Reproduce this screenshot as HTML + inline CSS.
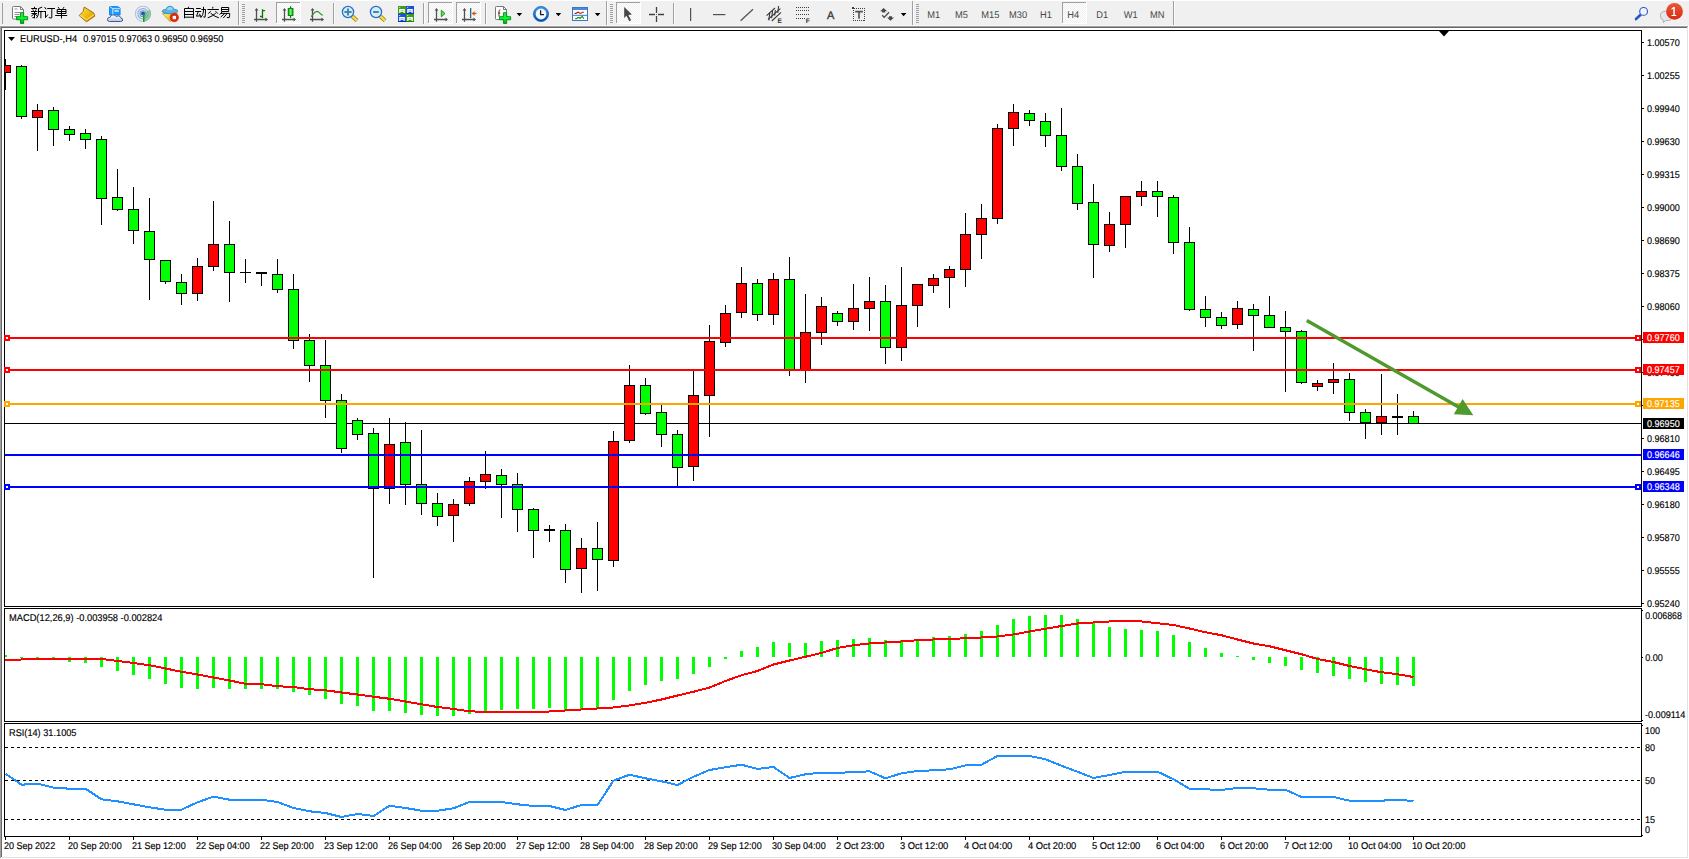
<!DOCTYPE html>
<html><head><meta charset="utf-8"><title>EURUSD-,H4</title>
<style>
html,body{margin:0;padding:0;background:#fff;}
body{width:1689px;height:859px;position:relative;overflow:hidden;font-family:"Liberation Sans",sans-serif;}
#tb{position:absolute;left:0;top:1px;width:1689px;height:25px;background:#f0f0f0;}
.ab{position:absolute;}
svg{position:absolute;left:0;top:0;}
text{font-family:"Liberation Sans",sans-serif;text-rendering:geometricPrecision;}
.t{font-size:9.8px;fill:#000;stroke:#000;stroke-width:.15px;}
.tw{font-size:9.8px;fill:#fff;stroke:#fff;stroke-width:.15px;}
.tbt{font-size:9.8px;fill:#484848;}
</style></head><body>
<div id="tb"></div>
<svg width="1689" height="27" viewBox="0 0 1689 27">
<defs><pattern id="chk" width="2" height="2" patternUnits="userSpaceOnUse"><rect width="2" height="2" fill="#fff"/><rect width="1" height="1" fill="#f0f0f0"/><rect x="1" y="1" width="1" height="1" fill="#f0f0f0"/></pattern><linearGradient id="gpl" x1="0" y1="0" x2="0" y2="1"><stop offset="0" stop-color="#2fe04a"/><stop offset=".5" stop-color="#00ff2a"/><stop offset="1" stop-color="#00a010"/></linearGradient><linearGradient id="gbk" x1="0" y1="0" x2="1" y2="1"><stop offset="0" stop-color="#ffe870"/><stop offset=".6" stop-color="#e8b400"/><stop offset="1" stop-color="#c89000"/></linearGradient><linearGradient id="gcl" x1="0" y1="0" x2="0" y2="1"><stop offset="0" stop-color="#ffffff"/><stop offset="1" stop-color="#b8c8e0"/></linearGradient><linearGradient id="gbd" x1="0" y1="0" x2="0" y2="1"><stop offset="0" stop-color="#e9583c"/><stop offset="1" stop-color="#dc2a10"/></linearGradient><linearGradient id="gck" x1="0" y1="0" x2="0" y2="1"><stop offset="0" stop-color="#3a9cf0"/><stop offset="1" stop-color="#0050b0"/></linearGradient><linearGradient id="ggr" x1="0" y1="0" x2="1" y2="0"><stop offset="0" stop-color="#008c00"/><stop offset=".5" stop-color="#70ff70"/><stop offset="1" stop-color="#00a000"/></linearGradient><linearGradient id="ghd" x1="0" y1="0" x2="1" y2="1"><stop offset="0" stop-color="#fff080"/><stop offset="1" stop-color="#d8a800"/></linearGradient></defs>
<rect x="0" y="0" width="1689" height="1" fill="#fff"/>
<rect x="2" y="3" width="1" height="21" fill="#a0a0a0"/>
<path d="M13.5 6.5h7l3 3V19h-10.2q-.8 0 -.8 -.8V7.3q0 -.8 .8 -.8z" fill="#fff" stroke="#787878" stroke-width="1"/>
<path d="M20.5 6.5v3h3" fill="none" stroke="#787878" stroke-width="1"/>
<path d="M14.5 9h3M14.5 12.5h6M14.5 14.5h5M14.5 16.5h3" stroke="#909090" stroke-width="1"/>
<path d="M20.55 12.65h3.1v4h4v3.1h-4v3.8h-3.1v-3.8h-4v-3.1h4z" fill="url(#gpl)" stroke="#008a10" stroke-width=".9"/>
<path d="M34.5 6.8V8M31.2 8.5H37M32.8 9.3L33.4 10.8M36.1 9.3L35.5 10.8M31 11.5H37.4M31.4 13.5H37M34.5 11.5V18.2M34.5 17.8L32.4 17.5M33.8 14.2L31.3 16.1M35.2 14.2L37.3 16.1M42.2 7.1L38.5 8.6M38.5 8.4V13Q38.4 16 36.4 18.2M38.5 11.5H43.3M40.9 11.5V18.3" fill="none" stroke="#000" stroke-width="1"/>
<path d="M44.6 7.1L46.1 9.3M43.4 11.5H46M45.5 11.5V17.6M45.4 17.7L47.9 14.5M47.2 8.5H55M51.8 8.5V17.8Q51.6 18.4 48.8 17.5" fill="none" stroke="#000" stroke-width="1"/>
<path d="M58.2 7.1L59.3 8.8M64 7.1L62.9 8.8M57.2 9.5H66V13.5H57.2ZM57.2 11.5H66M61.5 9.5V18.4M55.2 15.5H67.2" fill="none" stroke="#000" stroke-width="1"/>
<path d="M84.2 7L93.8 13L94.8 16.2L86.5 21.8L79.2 15.6L83.2 11.4z" fill="url(#gbk)" stroke="#a86c10" stroke-width="1"/>
<path d="M80 15.4L86.6 19.6L94.3 14.4" fill="none" stroke="#fff2a0" stroke-width="1" opacity=".8"/>
<path d="M109.5 6.5h8l2.6 1.6V15h-10.6z" fill="#1e9aff" stroke="#0a78e0" stroke-width=".8"/>
<path d="M109.5 6.5l3.3 2.2V15M112.8 8.7h7.3" fill="none" stroke="#d8f0ff" stroke-width=".9"/>
<rect x="114.5" y="10.3" width="4.2" height="1.4" fill="#e8f6ff"/>
<path d="M109.6 21.5Q107.2 21.4 107.4 19.2Q107.6 17.4 109.8 17.4Q110.6 14.6 113.4 14.8Q115.4 14.9 116.2 16.6Q118.2 15 120 16.4Q121 17.2 120.9 18.2Q122.8 18.4 122.7 20Q122.6 21.5 120.6 21.5z" fill="url(#gcl)" stroke="#3a5a9c" stroke-width="1"/>
<g fill="none" stroke-width="1.1"><circle cx="143" cy="13.8" r="7.6" stroke="#7a9ee0" opacity=".55"/><circle cx="143" cy="13.8" r="5.2" stroke="#4a78d0" opacity=".6"/><circle cx="143" cy="13.8" r="3" stroke="#3a68cc" opacity=".7"/></g>
<path d="M143.4 13.8L143.4 21.6A7.8 7.8 0 0 0 149.6 9.4z" fill="#58b860" opacity=".55"/>
<circle cx="143" cy="13.6" r="2" fill="#2050c8"/>
<rect x="143" y="14" width="1.5" height="7.8" fill="#10a010"/>
<path d="M162.4 13.6L177.6 13L170.3 21.8z" fill="url(#ghd)" stroke="#c89a10" stroke-width=".8"/>
<path d="M162 11.6Q162.4 9.4 166.2 9.2Q166.8 6.2 170 6.2Q173.2 6.2 173.8 9.2Q177.6 9.2 177.9 11.2Q176 13.6 170 13.8Q164 13.8 162 11.6z" fill="#5ab4e6" stroke="#2a88b8" stroke-width=".8"/>
<path d="M166.5 9.6Q167.4 7 170 7Q172.4 7 173.2 9.2Q170 10.6 166.5 9.6z" fill="#9ad4f4"/>
<circle cx="174.3" cy="17.5" r="4.2" fill="#e82810"/>
<circle cx="174.3" cy="17.5" r="4.2" fill="none" stroke="#b81800" stroke-width=".6"/>
<rect x="172.7" y="15.9" width="3.3" height="3.3" fill="#fff"/>
<path d="M188.7 6.7L188 8.3M184.5 8.5H193.5V18.3M184.5 8.5V18.3M184.5 11.5H193.5M184.5 14.5H193.5M184.5 17.2H193.5" fill="none" stroke="#000" stroke-width="1"/>
<path d="M196 8.5H200.8M195.2 11.5H201.2M198.3 11.6L196.5 16.2L200.3 15.8M199.5 13.8L200.9 17M201.4 9.5H205.7M205.5 9.5Q205.5 15 205 17.3L203.3 16.8M203.5 6.8V11Q203.3 15 200.7 17.9" fill="none" stroke="#000" stroke-width="1"/>
<path d="M212.8 6.8V8.6M207.4 9.5H218.8M210.7 11.2L208.3 13.7M215.5 11.2L217.9 13.7M215.8 13.1Q213 16 207.7 17.9M210.6 13.1Q213.4 16 218.9 17.9" fill="none" stroke="#000" stroke-width="1"/>
<path d="M221.5 7.5H228.7V11.5H221.5ZM221.5 9.5H228.7M222.4 11.6L219.6 14.7M221 13.4H229.7Q229.7 16 229.2 17.7L226.8 17.4M224.8 13.5L220.7 17.1M227.2 13.5L223.2 18.1" fill="none" stroke="#000" stroke-width="1"/>
<rect x="238" y="1" width="1" height="25" fill="#a0a0a0"/><rect x="239" y="1" width="1" height="25" fill="#fff" opacity=".7"/>
<rect x="242" y="4" width="3" height="1" fill="#a0a0a0"/><rect x="242" y="6" width="3" height="1" fill="#a0a0a0"/><rect x="242" y="8" width="3" height="1" fill="#a0a0a0"/><rect x="242" y="10" width="3" height="1" fill="#a0a0a0"/><rect x="242" y="12" width="3" height="1" fill="#a0a0a0"/><rect x="242" y="14" width="3" height="1" fill="#a0a0a0"/><rect x="242" y="16" width="3" height="1" fill="#a0a0a0"/><rect x="242" y="18" width="3" height="1" fill="#a0a0a0"/><rect x="242" y="20" width="3" height="1" fill="#a0a0a0"/><rect x="242" y="22" width="3" height="1" fill="#a0a0a0"/>
<g stroke="#505050" stroke-width="1.3" fill="none"><path d="M256.5 9V21.8M254 19.5H267"/></g><path d="M256.5 7.9l1.9 2.5h-3.8zM268 19.5l-2.5 -1.9v3.8z" fill="#505050"/>
<path d="M262.5 9.2V18M260 16.5h2.5M262.5 10.6h2.6" fill="none" stroke="#008000" stroke-width="1.3"/>
<rect x="276" y="2" width="25" height="22" fill="url(#chk)"/><rect x="276" y="2" width="25" height="1" fill="#a0a0a0"/><rect x="276" y="2" width="1" height="22" fill="#a0a0a0"/><rect x="276" y="23" width="25" height="1" fill="#fff"/><rect x="300" y="2" width="1" height="22" fill="#fff"/>
<g stroke="#505050" stroke-width="1.3" fill="none"><path d="M284.5 9V21.8M282 19.5H295"/></g><path d="M284.5 7.9l1.9 2.5h-3.8zM296 19.5l-2.5 -1.9v3.8z" fill="#505050"/>
<rect x="290" y="6.2" width="1.2" height="11.8" fill="#008000"/>
<rect x="288.2" y="8.4" width="4.8" height="7.2" fill="url(#ggr)" stroke="#008000" stroke-width=".9"/>
<g stroke="#505050" stroke-width="1.3" fill="none"><path d="M312.5 9V21.8M310 19.5H323"/></g><path d="M312.5 7.9l1.9 2.5h-3.8zM324 19.5l-2.5 -1.9v3.8z" fill="#505050"/>
<path d="M311.2 16.8Q314.5 11.4 317 11.3Q318.6 11.3 320.4 13.6Q321.6 15 322.8 15.2" fill="none" stroke="#2a902a" stroke-width="1.2"/>
<rect x="333" y="3" width="1" height="21" fill="#a0a0a0"/><rect x="334" y="3" width="1" height="21" fill="#fff" opacity=".7"/>
<path d="M352 16L357 20.6" stroke="#a07808" stroke-width="4" stroke-linecap="butt"/>
<path d="M352 16L357 20.6" stroke="#f4dc50" stroke-width="2.4"/>
<circle cx="348" cy="12" r="5.6" fill="#d6eefa" stroke="#2a70c4" stroke-width="1.3"/>
<path d="M344.4 12h7.2M348 8.4v7.2" stroke="#4488b0" stroke-width="2"/>
<path d="M380 16L385 20.6" stroke="#a07808" stroke-width="4" stroke-linecap="butt"/>
<path d="M380 16L385 20.6" stroke="#f4dc50" stroke-width="2.4"/>
<circle cx="376" cy="12" r="5.6" fill="#d6eefa" stroke="#2a70c4" stroke-width="1.3"/>
<path d="M373.1 12h5.8" stroke="#4488b0" stroke-width="2"/>
<rect x="398" y="6" width="8" height="8" fill="#3aa01c"/>
<rect x="398" y="13" width="8" height="1" fill="#2a8010"/>
<path d="M399.2 9h5.6v4h-1.2v-1.2h-3.2v1.2h-1.2z" fill="#fff"/>
<rect x="400.5" y="10.2" width="3" height=".8" fill="#3aa01c" opacity=".5"/>
<rect x="399.2" y="7" width="1" height="1" fill="#fff" opacity=".8"/>
<rect x="406" y="6" width="8" height="8" fill="#1c50d8"/>
<rect x="406" y="13" width="8" height="1" fill="#1030a8"/>
<path d="M407.2 9h5.6v4h-1.2v-1.2h-3.2v1.2h-1.2z" fill="#fff"/>
<rect x="408.5" y="10.2" width="3" height=".8" fill="#1c50d8" opacity=".5"/>
<rect x="407.2" y="7" width="1" height="1" fill="#fff" opacity=".8"/>
<rect x="398" y="14" width="8" height="8" fill="#1c50d8"/>
<rect x="398" y="21" width="8" height="1" fill="#1030a8"/>
<path d="M399.2 17h5.6v4h-1.2v-1.2h-3.2v1.2h-1.2z" fill="#fff"/>
<rect x="400.5" y="18.2" width="3" height=".8" fill="#1c50d8" opacity=".5"/>
<rect x="399.2" y="15" width="1" height="1" fill="#fff" opacity=".8"/>
<rect x="406" y="14" width="8" height="8" fill="#3aa01c"/>
<rect x="406" y="21" width="8" height="1" fill="#2a8010"/>
<path d="M407.2 17h5.6v4h-1.2v-1.2h-3.2v1.2h-1.2z" fill="#fff"/>
<rect x="408.5" y="18.2" width="3" height=".8" fill="#3aa01c" opacity=".5"/>
<rect x="407.2" y="15" width="1" height="1" fill="#fff" opacity=".8"/>
<rect x="423" y="3" width="1" height="21" fill="#a0a0a0"/><rect x="424" y="3" width="1" height="21" fill="#fff" opacity=".7"/>
<rect x="428" y="2" width="25" height="22" fill="url(#chk)"/><rect x="428" y="2" width="25" height="1" fill="#a0a0a0"/><rect x="428" y="2" width="1" height="22" fill="#a0a0a0"/><rect x="428" y="23" width="25" height="1" fill="#fff"/><rect x="452" y="2" width="1" height="22" fill="#fff"/>
<g stroke="#505050" stroke-width="1.3" fill="none"><path d="M436.5 9V21.8M434 19.5H447"/></g><path d="M436.5 7.9l1.9 2.5h-3.8zM448 19.5l-2.5 -1.9v3.8z" fill="#505050"/>
<path d="M441.3 10.2L445 13.5L441.3 16.8z" fill="#60e060" stroke="#10a010" stroke-width="1"/>
<rect x="456" y="2" width="25" height="22" fill="url(#chk)"/><rect x="456" y="2" width="25" height="1" fill="#a0a0a0"/><rect x="456" y="2" width="1" height="22" fill="#a0a0a0"/><rect x="456" y="23" width="25" height="1" fill="#fff"/><rect x="480" y="2" width="1" height="22" fill="#fff"/>
<g stroke="#505050" stroke-width="1.3" fill="none"><path d="M464.5 9V21.8M462 19.5H475"/></g><path d="M464.5 7.9l1.9 2.5h-3.8zM476 19.5l-2.5 -1.9v3.8z" fill="#505050"/>
<rect x="470" y="8" width="1.3" height="10" fill="#1a6aa0"/>
<path d="M471.6 13.5L474.6 11v1.8h1.8v1.4h-1.8V16z" fill="#e86a10"/>
<path d="M473 13.5h3.2" stroke="#d05000" stroke-width="1"/>
<rect x="485" y="3" width="1" height="21" fill="#a0a0a0"/><rect x="486" y="3" width="1" height="21" fill="#fff" opacity=".7"/>
<path d="M496.3 6.5h7.2l3 3V19.5h-10.2q-.8 0 -.8 -.8V7.3q0 -.8 .8 -.8z" fill="#fff" stroke="#787878" stroke-width="1"/>
<path d="M503.5 6.5v3h3" fill="none" stroke="#787878" stroke-width="1"/>
<path d="M500.4 9.8Q498.9 9.9 499 11.6v5M498 13h2.2" fill="none" stroke="#4a3a18" stroke-width="1"/>
<path d="M503.55 12.65h3.1v4h4v3.1h-4v3.8h-3.1v-3.8h-4v-3.1h4z" fill="url(#gpl)" stroke="#008a10" stroke-width=".9"/>
<path d="M516.6 13h5.6l-2.8 3.2z" fill="#000"/>
<circle cx="541" cy="14" r="7.6" fill="url(#gck)"/>
<circle cx="541" cy="14" r="5.4" fill="#f4f8ff"/>
<path d="M540.6 10.2V14.6H544" fill="none" stroke="#202020" stroke-width="1.3"/>
<circle cx="541" cy="14" r="7.6" fill="none" stroke="#0044a0" stroke-width=".6"/>
<path d="M555.6 13h5.6l-2.8 3.2z" fill="#000"/>
<rect x="572.5" y="7.5" width="15" height="13" fill="#fff" stroke="#3a78c8" stroke-width="1"/>
<rect x="573" y="8" width="14" height="2" fill="#4a8ad8"/>
<rect x="573" y="14.8" width="14" height="1" fill="#3a78c8"/>
<path d="M574.6 13.4h1.6l1.2-1h1.4l.8.9h1.6l1.2-1.1h1.4" fill="none" stroke="#a82010" stroke-width="1.1"/>
<path d="M575.2 18.6h1.4l1.2-1h1.4l.8.8 2-2 1.8 2.2" fill="none" stroke="#109020" stroke-width="1.1"/>
<path d="M594.8 13h5.6l-2.8 3.2z" fill="#000"/>
<rect x="606" y="1" width="1" height="26" fill="#a0a0a0"/><rect x="607" y="1" width="1" height="26" fill="#fff" opacity=".7"/>
<rect x="610" y="4" width="3" height="1" fill="#a0a0a0"/><rect x="610" y="6" width="3" height="1" fill="#a0a0a0"/><rect x="610" y="8" width="3" height="1" fill="#a0a0a0"/><rect x="610" y="10" width="3" height="1" fill="#a0a0a0"/><rect x="610" y="12" width="3" height="1" fill="#a0a0a0"/><rect x="610" y="14" width="3" height="1" fill="#a0a0a0"/><rect x="610" y="16" width="3" height="1" fill="#a0a0a0"/><rect x="610" y="18" width="3" height="1" fill="#a0a0a0"/><rect x="610" y="20" width="3" height="1" fill="#a0a0a0"/><rect x="610" y="22" width="3" height="1" fill="#a0a0a0"/>
<rect x="616" y="2" width="25" height="22" fill="url(#chk)"/><rect x="616" y="2" width="25" height="1" fill="#a0a0a0"/><rect x="616" y="2" width="1" height="22" fill="#a0a0a0"/><rect x="616" y="23" width="25" height="1" fill="#fff"/><rect x="640" y="2" width="1" height="22" fill="#fff"/>
<path d="M624.2 7V18L626.5 15.8L629.3 21.2L631.1 20.3L628.4 15L631.9 14.5z" fill="#484848"/>
<path d="M649 14.5h6M658 14.5h6M656.5 7v6M656.5 16v6" stroke="#404040" stroke-width="1.3"/>
<rect x="656" y="14" width="1" height="1" fill="#707040"/>
<rect x="673" y="3" width="1" height="21" fill="#a0a0a0"/><rect x="674" y="3" width="1" height="21" fill="#fff" opacity=".7"/>
<rect x="690" y="8" width="1.2" height="13" fill="#505050"/>
<rect x="713" y="14" width="12.4" height="1.2" fill="#505050"/>
<path d="M740.6 20.8L753 9.3" stroke="#505050" stroke-width="1.2"/>
<g stroke="#383838" stroke-width="1.1" fill="none"><path d="M766.6 15.6L775 8M771.8 21L781 12.4M768 19.4L780.4 8.6"/><path d="M769.8 12.6L768.8 20.4M772.6 10.8L771.6 18.2M775.4 10L774.6 15.6M778.6 6L777.8 13"/></g>
<text x="777.6" y="22.8" style="font-size:6.6px;font-weight:bold;fill:#303030">E</text>
<rect x="796" y="7" width="1" height="1" fill="#404040"/>
<rect x="798" y="7" width="1" height="1" fill="#404040"/>
<rect x="800" y="7" width="1" height="1" fill="#404040"/>
<rect x="802" y="7" width="1" height="1" fill="#404040"/>
<rect x="804" y="7" width="1" height="1" fill="#404040"/>
<rect x="806" y="7" width="1" height="1" fill="#404040"/>
<rect x="808" y="7" width="1" height="1" fill="#404040"/>
<rect x="796" y="10" width="1" height="1" fill="#404040"/>
<rect x="798" y="10" width="1" height="1" fill="#404040"/>
<rect x="800" y="10" width="1" height="1" fill="#404040"/>
<rect x="802" y="10" width="1" height="1" fill="#404040"/>
<rect x="804" y="10" width="1" height="1" fill="#404040"/>
<rect x="806" y="10" width="1" height="1" fill="#404040"/>
<rect x="808" y="10" width="1" height="1" fill="#404040"/>
<rect x="796" y="14" width="1" height="1" fill="#404040"/>
<rect x="798" y="14" width="1" height="1" fill="#404040"/>
<rect x="800" y="14" width="1" height="1" fill="#404040"/>
<rect x="802" y="14" width="1" height="1" fill="#404040"/>
<rect x="804" y="14" width="1" height="1" fill="#404040"/>
<rect x="806" y="14" width="1" height="1" fill="#404040"/>
<rect x="808" y="14" width="1" height="1" fill="#404040"/>
<rect x="796" y="18" width="1" height="1" fill="#404040"/>
<rect x="798" y="18" width="1" height="1" fill="#404040"/>
<rect x="800" y="18" width="1" height="1" fill="#404040"/>
<rect x="802" y="18" width="1" height="1" fill="#404040"/>
<rect x="804" y="18" width="1" height="1" fill="#404040"/>
<text x="805.8" y="22.8" style="font-size:6.6px;font-weight:bold;fill:#303030">F</text>
<text x="826.9" y="18.8" style="font-size:11px;fill:#404040;stroke:#404040;stroke-width:.4">A</text>
<rect x="854" y="8" width="1" height="1" fill="#404040"/><rect x="853" y="20" width="1" height="1" fill="#404040"/>
<rect x="853" y="10" width="1" height="1" fill="#404040"/><rect x="864" y="10" width="1" height="1" fill="#404040"/>
<rect x="856" y="8" width="1" height="1" fill="#404040"/><rect x="855" y="20" width="1" height="1" fill="#404040"/>
<rect x="853" y="12" width="1" height="1" fill="#404040"/><rect x="864" y="12" width="1" height="1" fill="#404040"/>
<rect x="858" y="8" width="1" height="1" fill="#404040"/><rect x="857" y="20" width="1" height="1" fill="#404040"/>
<rect x="853" y="14" width="1" height="1" fill="#404040"/><rect x="864" y="14" width="1" height="1" fill="#404040"/>
<rect x="860" y="8" width="1" height="1" fill="#404040"/><rect x="859" y="20" width="1" height="1" fill="#404040"/>
<rect x="853" y="16" width="1" height="1" fill="#404040"/><rect x="864" y="16" width="1" height="1" fill="#404040"/>
<rect x="862" y="8" width="1" height="1" fill="#404040"/><rect x="861" y="20" width="1" height="1" fill="#404040"/>
<rect x="853" y="18" width="1" height="1" fill="#404040"/><rect x="864" y="18" width="1" height="1" fill="#404040"/>
<rect x="864" y="8" width="1" height="1" fill="#404040"/><rect x="863" y="20" width="1" height="1" fill="#404040"/>
<rect x="853" y="20" width="1" height="1" fill="#404040"/><rect x="864" y="20" width="1" height="1" fill="#404040"/>
<rect x="852" y="7" width="2" height="2" fill="#404040"/>
<path d="M855.2 11.6h7.6M859 11.6v7.2" stroke="#505050" stroke-width="1.6" fill="none"/>
<path d="M883.6 8l3.5 3.3h-2v1.2h-3v-1.2h-2z" fill="#484848"/>
<path d="M890.5 20.8l-3.5-3.3h2v-1.2h3v1.2h2z" fill="#484848"/>
<path d="M882.2 15.2l2 2.2 4.8-5.2" fill="none" stroke="#484848" stroke-width="1.3"/>
<path d="M900.8 13h5.6l-2.8 3.2z" fill="#000"/>
<rect x="912" y="1" width="1" height="26" fill="#a0a0a0"/><rect x="913" y="1" width="1" height="26" fill="#fff" opacity=".7"/>
<rect x="916" y="4" width="3" height="1" fill="#a0a0a0"/><rect x="916" y="6" width="3" height="1" fill="#a0a0a0"/><rect x="916" y="8" width="3" height="1" fill="#a0a0a0"/><rect x="916" y="10" width="3" height="1" fill="#a0a0a0"/><rect x="916" y="12" width="3" height="1" fill="#a0a0a0"/><rect x="916" y="14" width="3" height="1" fill="#a0a0a0"/><rect x="916" y="16" width="3" height="1" fill="#a0a0a0"/><rect x="916" y="18" width="3" height="1" fill="#a0a0a0"/><rect x="916" y="20" width="3" height="1" fill="#a0a0a0"/><rect x="916" y="22" width="3" height="1" fill="#a0a0a0"/>
<rect x="1062" y="2" width="25" height="22" fill="url(#chk)"/><rect x="1062" y="2" width="25" height="1" fill="#a0a0a0"/><rect x="1062" y="2" width="1" height="22" fill="#a0a0a0"/><rect x="1062" y="23" width="25" height="1" fill="#fff"/><rect x="1086" y="2" width="1" height="22" fill="#fff"/>
<text class="tbt" transform="translate(927.3 18.2) scale(.95 1)">M1</text>
<text class="tbt" transform="translate(955 18.2) scale(.95 1)">M5</text>
<text class="tbt" transform="translate(981.3 18.2) scale(.95 1)">M15</text>
<text class="tbt" transform="translate(1009 18.2) scale(.95 1)">M30</text>
<text class="tbt" transform="translate(1040 18.2) scale(.95 1)">H1</text>
<text class="tbt" transform="translate(1067.2 18.2) scale(.95 1)">H4</text>
<text class="tbt" transform="translate(1096.3 18.2) scale(.95 1)">D1</text>
<text class="tbt" transform="translate(1123.8 18.2) scale(.95 1)">W1</text>
<text class="tbt" transform="translate(1150 18.2) scale(.95 1)">MN</text>
<rect x="1173" y="1" width="1" height="25" fill="#a0a0a0"/><rect x="1174" y="1" width="1" height="25" fill="#fff" opacity=".7"/>
<path d="M1640.6 14.8L1636 19" stroke="#2458c8" stroke-width="2.6" stroke-linecap="round"/>
<circle cx="1643.6" cy="11.4" r="3.9" fill="#f4f4f8" stroke="#2458c8" stroke-width="1.1"/>
<path d="M1665.5 11.2Q1660.4 11.4 1660.4 15.6Q1660.5 19.4 1663.4 20.2L1663.2 22.6L1665.6 20.6Q1671.5 21 1672.4 17z" fill="#e4e6ee" stroke="#a0a0a8" stroke-width=".8"/>
<circle cx="1674.5" cy="11.4" r="8.4" fill="url(#gbd)"/>
<path d="M1673.3 7h1.5v8.1h1.5v1h-4.8v-1h1.8v-6.3l-1.8.9v-1.2z" fill="#fff"/>
</svg>
<div class="ab" style="left:0;top:25px;width:1689px;height:1px;background:#f8f8f8"></div>
<div class="ab" style="left:0;top:26px;width:1688px;height:1px;background:#a0a0a0"></div>
<div class="ab" style="left:1px;top:27px;width:1686px;height:1px;background:#696969"></div>
<div class="ab" style="left:0;top:26px;width:1px;height:832px;background:#a0a0a0"></div>
<div class="ab" style="left:1px;top:27px;width:1px;height:830px;background:#696969"></div>
<div class="ab" style="left:1687px;top:27px;width:1px;height:831px;background:#e3e3e3"></div>
<div class="ab" style="left:2px;top:857px;width:1686px;height:1px;background:#e3e3e3"></div>
<svg width="1689" height="859" viewBox="0 0 1689 859">
<g shape-rendering="crispEdges" fill="none" stroke="#000" stroke-width="1">
<rect x="4.5" y="30.5" width="1637" height="576"/>
<rect x="4.5" y="608.5" width="1637" height="113"/>
<rect x="4.5" y="723.5" width="1637" height="113"/>
</g>
<g shape-rendering="crispEdges">
<rect x="5" y="423" width="1636" height="1" fill="#000"/>
<rect x="5" y="59" width="1" height="31" fill="#000"/>
<rect x="5" y="65" width="6" height="8" fill="#000"/>
<rect x="5" y="66" width="5" height="6" fill="#ff0000"/>
<rect x="21" y="65" width="1" height="54" fill="#000"/>
<rect x="16" y="66" width="11" height="51" fill="#000"/>
<rect x="17" y="67" width="9" height="49" fill="#00ff00"/>
<rect x="37" y="104" width="1" height="47" fill="#000"/>
<rect x="32" y="110" width="11" height="8" fill="#000"/>
<rect x="33" y="111" width="9" height="6" fill="#ff0000"/>
<rect x="53" y="107" width="1" height="39" fill="#000"/>
<rect x="48" y="110" width="11" height="20" fill="#000"/>
<rect x="49" y="111" width="9" height="18" fill="#00ff00"/>
<rect x="69" y="126" width="1" height="15" fill="#000"/>
<rect x="64" y="129" width="11" height="6" fill="#000"/>
<rect x="65" y="130" width="9" height="4" fill="#00ff00"/>
<rect x="85" y="129" width="1" height="20" fill="#000"/>
<rect x="80" y="133" width="11" height="7" fill="#000"/>
<rect x="81" y="134" width="9" height="5" fill="#00ff00"/>
<rect x="101" y="136" width="1" height="89" fill="#000"/>
<rect x="96" y="139" width="11" height="60" fill="#000"/>
<rect x="97" y="140" width="9" height="58" fill="#00ff00"/>
<rect x="117" y="169" width="1" height="42" fill="#000"/>
<rect x="112" y="197" width="11" height="13" fill="#000"/>
<rect x="113" y="198" width="9" height="11" fill="#00ff00"/>
<rect x="133" y="187" width="1" height="57" fill="#000"/>
<rect x="128" y="209" width="11" height="22" fill="#000"/>
<rect x="129" y="210" width="9" height="20" fill="#00ff00"/>
<rect x="149" y="198" width="1" height="102" fill="#000"/>
<rect x="144" y="231" width="11" height="29" fill="#000"/>
<rect x="145" y="232" width="9" height="27" fill="#00ff00"/>
<rect x="165" y="260" width="1" height="24" fill="#000"/>
<rect x="160" y="260" width="11" height="22" fill="#000"/>
<rect x="161" y="261" width="9" height="20" fill="#00ff00"/>
<rect x="181" y="274" width="1" height="31" fill="#000"/>
<rect x="176" y="282" width="11" height="12" fill="#000"/>
<rect x="177" y="283" width="9" height="10" fill="#00ff00"/>
<rect x="197" y="258" width="1" height="43" fill="#000"/>
<rect x="192" y="266" width="11" height="28" fill="#000"/>
<rect x="193" y="267" width="9" height="26" fill="#ff0000"/>
<rect x="213" y="201" width="1" height="70" fill="#000"/>
<rect x="208" y="244" width="11" height="23" fill="#000"/>
<rect x="209" y="245" width="9" height="21" fill="#ff0000"/>
<rect x="229" y="221" width="1" height="81" fill="#000"/>
<rect x="224" y="244" width="11" height="29" fill="#000"/>
<rect x="225" y="245" width="9" height="27" fill="#00ff00"/>
<rect x="245" y="259" width="1" height="24" fill="#000"/>
<rect x="240" y="272" width="11" height="1" fill="#000"/>
<rect x="261" y="273" width="1" height="13" fill="#000"/>
<rect x="256" y="272" width="11" height="2" fill="#000"/>
<rect x="277" y="259" width="1" height="34" fill="#000"/>
<rect x="272" y="274" width="11" height="16" fill="#000"/>
<rect x="273" y="275" width="9" height="14" fill="#00ff00"/>
<rect x="293" y="274" width="1" height="75" fill="#000"/>
<rect x="288" y="289" width="11" height="52" fill="#000"/>
<rect x="289" y="290" width="9" height="50" fill="#00ff00"/>
<rect x="309" y="334" width="1" height="48" fill="#000"/>
<rect x="304" y="340" width="11" height="26" fill="#000"/>
<rect x="305" y="341" width="9" height="24" fill="#00ff00"/>
<rect x="325" y="340" width="1" height="78" fill="#000"/>
<rect x="320" y="365" width="11" height="36" fill="#000"/>
<rect x="321" y="366" width="9" height="34" fill="#00ff00"/>
<rect x="341" y="394" width="1" height="59" fill="#000"/>
<rect x="336" y="400" width="11" height="49" fill="#000"/>
<rect x="337" y="401" width="9" height="47" fill="#00ff00"/>
<rect x="357" y="418" width="1" height="22" fill="#000"/>
<rect x="352" y="420" width="11" height="15" fill="#000"/>
<rect x="353" y="421" width="9" height="13" fill="#00ff00"/>
<rect x="373" y="428" width="1" height="150" fill="#000"/>
<rect x="368" y="433" width="11" height="56" fill="#000"/>
<rect x="369" y="434" width="9" height="54" fill="#00ff00"/>
<rect x="389" y="418" width="1" height="86" fill="#000"/>
<rect x="384" y="444" width="11" height="45" fill="#000"/>
<rect x="385" y="445" width="9" height="43" fill="#ff0000"/>
<rect x="405" y="422" width="1" height="83" fill="#000"/>
<rect x="400" y="442" width="11" height="43" fill="#000"/>
<rect x="401" y="443" width="9" height="41" fill="#00ff00"/>
<rect x="421" y="430" width="1" height="85" fill="#000"/>
<rect x="416" y="484" width="11" height="20" fill="#000"/>
<rect x="417" y="485" width="9" height="18" fill="#00ff00"/>
<rect x="437" y="493" width="1" height="33" fill="#000"/>
<rect x="432" y="503" width="11" height="14" fill="#000"/>
<rect x="433" y="504" width="9" height="12" fill="#00ff00"/>
<rect x="453" y="499" width="1" height="43" fill="#000"/>
<rect x="448" y="504" width="11" height="12" fill="#000"/>
<rect x="449" y="505" width="9" height="10" fill="#ff0000"/>
<rect x="469" y="477" width="1" height="29" fill="#000"/>
<rect x="464" y="481" width="11" height="23" fill="#000"/>
<rect x="465" y="482" width="9" height="21" fill="#ff0000"/>
<rect x="485" y="451" width="1" height="38" fill="#000"/>
<rect x="480" y="474" width="11" height="8" fill="#000"/>
<rect x="481" y="475" width="9" height="6" fill="#ff0000"/>
<rect x="501" y="469" width="1" height="49" fill="#000"/>
<rect x="496" y="475" width="11" height="10" fill="#000"/>
<rect x="497" y="476" width="9" height="8" fill="#00ff00"/>
<rect x="517" y="473" width="1" height="59" fill="#000"/>
<rect x="512" y="484" width="11" height="26" fill="#000"/>
<rect x="513" y="485" width="9" height="24" fill="#00ff00"/>
<rect x="533" y="508" width="1" height="50" fill="#000"/>
<rect x="528" y="509" width="11" height="22" fill="#000"/>
<rect x="529" y="510" width="9" height="20" fill="#00ff00"/>
<rect x="549" y="525" width="1" height="17" fill="#000"/>
<rect x="544" y="529" width="11" height="2" fill="#000"/>
<rect x="565" y="524" width="1" height="59" fill="#000"/>
<rect x="560" y="530" width="11" height="40" fill="#000"/>
<rect x="561" y="531" width="9" height="38" fill="#00ff00"/>
<rect x="581" y="538" width="1" height="55" fill="#000"/>
<rect x="576" y="548" width="11" height="21" fill="#000"/>
<rect x="577" y="549" width="9" height="19" fill="#ff0000"/>
<rect x="597" y="522" width="1" height="69" fill="#000"/>
<rect x="592" y="548" width="11" height="12" fill="#000"/>
<rect x="593" y="549" width="9" height="10" fill="#00ff00"/>
<rect x="613" y="431" width="1" height="136" fill="#000"/>
<rect x="608" y="441" width="11" height="120" fill="#000"/>
<rect x="609" y="442" width="9" height="118" fill="#ff0000"/>
<rect x="629" y="365" width="1" height="78" fill="#000"/>
<rect x="624" y="385" width="11" height="56" fill="#000"/>
<rect x="625" y="386" width="9" height="54" fill="#ff0000"/>
<rect x="645" y="378" width="1" height="37" fill="#000"/>
<rect x="640" y="385" width="11" height="29" fill="#000"/>
<rect x="641" y="386" width="9" height="27" fill="#00ff00"/>
<rect x="661" y="405" width="1" height="42" fill="#000"/>
<rect x="656" y="412" width="11" height="23" fill="#000"/>
<rect x="657" y="413" width="9" height="21" fill="#00ff00"/>
<rect x="677" y="430" width="1" height="56" fill="#000"/>
<rect x="672" y="434" width="11" height="34" fill="#000"/>
<rect x="673" y="435" width="9" height="32" fill="#00ff00"/>
<rect x="693" y="371" width="1" height="110" fill="#000"/>
<rect x="688" y="395" width="11" height="72" fill="#000"/>
<rect x="689" y="396" width="9" height="70" fill="#ff0000"/>
<rect x="709" y="325" width="1" height="112" fill="#000"/>
<rect x="704" y="341" width="11" height="55" fill="#000"/>
<rect x="705" y="342" width="9" height="53" fill="#ff0000"/>
<rect x="725" y="305" width="1" height="42" fill="#000"/>
<rect x="720" y="313" width="11" height="30" fill="#000"/>
<rect x="721" y="314" width="9" height="28" fill="#ff0000"/>
<rect x="741" y="267" width="1" height="51" fill="#000"/>
<rect x="736" y="283" width="11" height="30" fill="#000"/>
<rect x="737" y="284" width="9" height="28" fill="#ff0000"/>
<rect x="757" y="279" width="1" height="42" fill="#000"/>
<rect x="752" y="283" width="11" height="32" fill="#000"/>
<rect x="753" y="284" width="9" height="30" fill="#00ff00"/>
<rect x="773" y="273" width="1" height="52" fill="#000"/>
<rect x="768" y="279" width="11" height="36" fill="#000"/>
<rect x="769" y="280" width="9" height="34" fill="#ff0000"/>
<rect x="789" y="257" width="1" height="119" fill="#000"/>
<rect x="784" y="279" width="11" height="91" fill="#000"/>
<rect x="785" y="280" width="9" height="89" fill="#00ff00"/>
<rect x="805" y="294" width="1" height="89" fill="#000"/>
<rect x="800" y="332" width="11" height="38" fill="#000"/>
<rect x="801" y="333" width="9" height="36" fill="#ff0000"/>
<rect x="821" y="297" width="1" height="48" fill="#000"/>
<rect x="816" y="306" width="11" height="27" fill="#000"/>
<rect x="817" y="307" width="9" height="25" fill="#ff0000"/>
<rect x="837" y="311" width="1" height="15" fill="#000"/>
<rect x="832" y="313" width="11" height="9" fill="#000"/>
<rect x="833" y="314" width="9" height="7" fill="#00ff00"/>
<rect x="853" y="284" width="1" height="46" fill="#000"/>
<rect x="848" y="308" width="11" height="14" fill="#000"/>
<rect x="849" y="309" width="9" height="12" fill="#ff0000"/>
<rect x="869" y="277" width="1" height="54" fill="#000"/>
<rect x="864" y="301" width="11" height="8" fill="#000"/>
<rect x="865" y="302" width="9" height="6" fill="#ff0000"/>
<rect x="885" y="285" width="1" height="79" fill="#000"/>
<rect x="880" y="301" width="11" height="47" fill="#000"/>
<rect x="881" y="302" width="9" height="45" fill="#00ff00"/>
<rect x="901" y="267" width="1" height="94" fill="#000"/>
<rect x="896" y="305" width="11" height="43" fill="#000"/>
<rect x="897" y="306" width="9" height="41" fill="#ff0000"/>
<rect x="917" y="284" width="1" height="43" fill="#000"/>
<rect x="912" y="284" width="11" height="22" fill="#000"/>
<rect x="913" y="285" width="9" height="20" fill="#ff0000"/>
<rect x="933" y="274" width="1" height="19" fill="#000"/>
<rect x="928" y="278" width="11" height="8" fill="#000"/>
<rect x="929" y="279" width="9" height="6" fill="#ff0000"/>
<rect x="949" y="266" width="1" height="42" fill="#000"/>
<rect x="944" y="269" width="11" height="9" fill="#000"/>
<rect x="945" y="270" width="9" height="7" fill="#ff0000"/>
<rect x="965" y="213" width="1" height="74" fill="#000"/>
<rect x="960" y="234" width="11" height="36" fill="#000"/>
<rect x="961" y="235" width="9" height="34" fill="#ff0000"/>
<rect x="981" y="204" width="1" height="55" fill="#000"/>
<rect x="976" y="218" width="11" height="17" fill="#000"/>
<rect x="977" y="219" width="9" height="15" fill="#ff0000"/>
<rect x="997" y="124" width="1" height="100" fill="#000"/>
<rect x="992" y="128" width="11" height="91" fill="#000"/>
<rect x="993" y="129" width="9" height="89" fill="#ff0000"/>
<rect x="1013" y="104" width="1" height="42" fill="#000"/>
<rect x="1008" y="112" width="11" height="17" fill="#000"/>
<rect x="1009" y="113" width="9" height="15" fill="#ff0000"/>
<rect x="1029" y="110" width="1" height="16" fill="#000"/>
<rect x="1024" y="113" width="11" height="8" fill="#000"/>
<rect x="1025" y="114" width="9" height="6" fill="#00ff00"/>
<rect x="1045" y="113" width="1" height="34" fill="#000"/>
<rect x="1040" y="121" width="11" height="15" fill="#000"/>
<rect x="1041" y="122" width="9" height="13" fill="#00ff00"/>
<rect x="1061" y="108" width="1" height="63" fill="#000"/>
<rect x="1056" y="135" width="11" height="32" fill="#000"/>
<rect x="1057" y="136" width="9" height="30" fill="#00ff00"/>
<rect x="1077" y="154" width="1" height="56" fill="#000"/>
<rect x="1072" y="166" width="11" height="38" fill="#000"/>
<rect x="1073" y="167" width="9" height="36" fill="#00ff00"/>
<rect x="1093" y="184" width="1" height="94" fill="#000"/>
<rect x="1088" y="202" width="11" height="43" fill="#000"/>
<rect x="1089" y="203" width="9" height="41" fill="#00ff00"/>
<rect x="1109" y="212" width="1" height="40" fill="#000"/>
<rect x="1104" y="224" width="11" height="22" fill="#000"/>
<rect x="1105" y="225" width="9" height="20" fill="#ff0000"/>
<rect x="1125" y="196" width="1" height="52" fill="#000"/>
<rect x="1120" y="196" width="11" height="29" fill="#000"/>
<rect x="1121" y="197" width="9" height="27" fill="#ff0000"/>
<rect x="1141" y="181" width="1" height="25" fill="#000"/>
<rect x="1136" y="191" width="11" height="6" fill="#000"/>
<rect x="1137" y="192" width="9" height="4" fill="#ff0000"/>
<rect x="1157" y="181" width="1" height="36" fill="#000"/>
<rect x="1152" y="191" width="11" height="6" fill="#000"/>
<rect x="1153" y="192" width="9" height="4" fill="#00ff00"/>
<rect x="1173" y="195" width="1" height="59" fill="#000"/>
<rect x="1168" y="197" width="11" height="46" fill="#000"/>
<rect x="1169" y="198" width="9" height="44" fill="#00ff00"/>
<rect x="1189" y="227" width="1" height="84" fill="#000"/>
<rect x="1184" y="242" width="11" height="68" fill="#000"/>
<rect x="1185" y="243" width="9" height="66" fill="#00ff00"/>
<rect x="1205" y="296" width="1" height="31" fill="#000"/>
<rect x="1200" y="309" width="11" height="9" fill="#000"/>
<rect x="1201" y="310" width="9" height="7" fill="#00ff00"/>
<rect x="1221" y="312" width="1" height="17" fill="#000"/>
<rect x="1216" y="317" width="11" height="9" fill="#000"/>
<rect x="1217" y="318" width="9" height="7" fill="#00ff00"/>
<rect x="1237" y="301" width="1" height="28" fill="#000"/>
<rect x="1232" y="308" width="11" height="17" fill="#000"/>
<rect x="1233" y="309" width="9" height="15" fill="#ff0000"/>
<rect x="1253" y="304" width="1" height="47" fill="#000"/>
<rect x="1248" y="309" width="11" height="7" fill="#000"/>
<rect x="1249" y="310" width="9" height="5" fill="#00ff00"/>
<rect x="1269" y="296" width="1" height="32" fill="#000"/>
<rect x="1264" y="315" width="11" height="13" fill="#000"/>
<rect x="1265" y="316" width="9" height="11" fill="#00ff00"/>
<rect x="1285" y="311" width="1" height="81" fill="#000"/>
<rect x="1280" y="327" width="11" height="5" fill="#000"/>
<rect x="1281" y="328" width="9" height="3" fill="#00ff00"/>
<rect x="1301" y="330" width="1" height="54" fill="#000"/>
<rect x="1296" y="331" width="11" height="52" fill="#000"/>
<rect x="1297" y="332" width="9" height="50" fill="#00ff00"/>
<rect x="1317" y="380" width="1" height="11" fill="#000"/>
<rect x="1312" y="383" width="11" height="4" fill="#000"/>
<rect x="1313" y="384" width="9" height="2" fill="#ff0000"/>
<rect x="1333" y="363" width="1" height="31" fill="#000"/>
<rect x="1328" y="379" width="11" height="4" fill="#000"/>
<rect x="1329" y="380" width="9" height="2" fill="#ff0000"/>
<rect x="1349" y="373" width="1" height="48" fill="#000"/>
<rect x="1344" y="379" width="11" height="34" fill="#000"/>
<rect x="1345" y="380" width="9" height="32" fill="#00ff00"/>
<rect x="1365" y="409" width="1" height="30" fill="#000"/>
<rect x="1360" y="412" width="11" height="11" fill="#000"/>
<rect x="1361" y="413" width="9" height="9" fill="#00ff00"/>
<rect x="1381" y="374" width="1" height="61" fill="#000"/>
<rect x="1376" y="416" width="11" height="7" fill="#000"/>
<rect x="1377" y="417" width="9" height="5" fill="#ff0000"/>
<rect x="1397" y="394" width="1" height="41" fill="#000"/>
<rect x="1392" y="416" width="11" height="2" fill="#000"/>
<rect x="1413" y="411" width="1" height="13" fill="#000"/>
<rect x="1408" y="416" width="11" height="8" fill="#000"/>
<rect x="1409" y="417" width="9" height="6" fill="#00ff00"/>
</g>
<g shape-rendering="crispEdges">
<rect x="5" y="337" width="1636" height="2" fill="#ff0000"/>
<rect x="4" y="335" width="6" height="6" fill="#ff0000"/>
<rect x="6" y="337" width="2" height="2" fill="#fff"/>
<rect x="1635" y="335" width="6" height="6" fill="#ff0000"/>
<rect x="1637" y="337" width="2" height="2" fill="#fff"/>
<rect x="5" y="369" width="1636" height="2" fill="#ff0000"/>
<rect x="4" y="367" width="6" height="6" fill="#ff0000"/>
<rect x="6" y="369" width="2" height="2" fill="#fff"/>
<rect x="1635" y="367" width="6" height="6" fill="#ff0000"/>
<rect x="1637" y="369" width="2" height="2" fill="#fff"/>
<rect x="5" y="403" width="1636" height="2" fill="#ffa500"/>
<rect x="4" y="401" width="6" height="6" fill="#ffa500"/>
<rect x="6" y="403" width="2" height="2" fill="#fff"/>
<rect x="1635" y="401" width="6" height="6" fill="#ffa500"/>
<rect x="1637" y="403" width="2" height="2" fill="#fff"/>
<rect x="5" y="454" width="1636" height="2" fill="#0000ff"/>
<rect x="5" y="486" width="1636" height="2" fill="#0000ff"/>
<rect x="4" y="484" width="6" height="6" fill="#0000ff"/>
<rect x="6" y="486" width="2" height="2" fill="#fff"/>
<rect x="1635" y="484" width="6" height="6" fill="#0000ff"/>
<rect x="1637" y="486" width="2" height="2" fill="#fff"/>
</g>
<g shape-rendering="crispEdges" fill="#000">
<rect x="1642" y="42" width="2" height="1"/>
<rect x="1642" y="75" width="2" height="1"/>
<rect x="1642" y="108" width="2" height="1"/>
<rect x="1642" y="141" width="2" height="1"/>
<rect x="1642" y="174" width="2" height="1"/>
<rect x="1642" y="207" width="2" height="1"/>
<rect x="1642" y="240" width="2" height="1"/>
<rect x="1642" y="273" width="2" height="1"/>
<rect x="1642" y="306" width="2" height="1"/>
<rect x="1642" y="339" width="2" height="1"/>
<rect x="1642" y="372" width="2" height="1"/>
<rect x="1642" y="405" width="2" height="1"/>
<rect x="1642" y="438" width="2" height="1"/>
<rect x="1642" y="471" width="2" height="1"/>
<rect x="1642" y="504" width="2" height="1"/>
<rect x="1642" y="537" width="2" height="1"/>
<rect x="1642" y="570" width="2" height="1"/>
<rect x="1642" y="603" width="2" height="1"/>
<rect x="1642" y="610" width="1" height="1"/>
<rect x="1642" y="657" width="1" height="1"/>
<rect x="1642" y="720" width="1" height="1"/>
<rect x="1642" y="725" width="1" height="1"/>
<rect x="1642" y="835" width="1" height="1"/>
</g>
<text class="t" transform="translate(1647 46.2) scale(0.9235 1)">1.00570</text>
<text class="t" transform="translate(1647 79.2) scale(0.9235 1)">1.00255</text>
<text class="t" transform="translate(1647 112.2) scale(0.9235 1)">0.99940</text>
<text class="t" transform="translate(1647 145.2) scale(0.9235 1)">0.99630</text>
<text class="t" transform="translate(1647 178.2) scale(0.9235 1)">0.99315</text>
<text class="t" transform="translate(1647 211.2) scale(0.9235 1)">0.99000</text>
<text class="t" transform="translate(1647 244.2) scale(0.9235 1)">0.98690</text>
<text class="t" transform="translate(1647 277.2) scale(0.9235 1)">0.98375</text>
<text class="t" transform="translate(1647 310.2) scale(0.9235 1)">0.98060</text>
<text class="t" transform="translate(1647 343.2) scale(0.9235 1)">0.97745</text>
<text class="t" transform="translate(1647 376.2) scale(0.9235 1)">0.97430</text>
<text class="t" transform="translate(1647 409.2) scale(0.9235 1)">0.97120</text>
<text class="t" transform="translate(1647 442.2) scale(0.9235 1)">0.96810</text>
<text class="t" transform="translate(1647 475.2) scale(0.9235 1)">0.96495</text>
<text class="t" transform="translate(1647 508.2) scale(0.9235 1)">0.96180</text>
<text class="t" transform="translate(1647 541.2) scale(0.9235 1)">0.95870</text>
<text class="t" transform="translate(1647 574.2) scale(0.9235 1)">0.95555</text>
<text class="t" transform="translate(1647 607.2) scale(0.9235 1)">0.95240</text>
<g shape-rendering="crispEdges">
<rect x="1643" y="332" width="41" height="11" fill="#ff0000"/>
<rect x="1643" y="364" width="41" height="11" fill="#ff0000"/>
<rect x="1643" y="398" width="41" height="11" fill="#ffa500"/>
<rect x="1643" y="449" width="41" height="11" fill="#0000ff"/>
<rect x="1643" y="481" width="41" height="11" fill="#0000ff"/>
<rect x="1643" y="418" width="41" height="11" fill="#000"/>
</g>
<text class="tw" transform="translate(1647 341.2) scale(0.9235 1)">0.97760</text>
<text class="tw" transform="translate(1647 373.2) scale(0.9235 1)">0.97457</text>
<text class="tw" transform="translate(1647 407.2) scale(0.9235 1)">0.97135</text>
<text class="tw" transform="translate(1647 458.2) scale(0.9235 1)">0.96646</text>
<text class="tw" transform="translate(1647 490.2) scale(0.9235 1)">0.96348</text>
<text class="tw" transform="translate(1647 427.2) scale(0.9235 1)">0.96950</text>
<text class="t" transform="translate(1645.2 619.2) scale(0.8984 1)">0.006868</text>
<text class="t" transform="translate(1645.2 661.2) scale(0.9235 1)">0.00</text>
<text class="t" transform="translate(1645 718.2) scale(0.9285 1)">-0.009114</text>
<text class="t" transform="translate(1645 734.2) scale(0.9235 1)">100</text>
<text class="t" transform="translate(1645 751.2) scale(0.9235 1)">80</text>
<text class="t" transform="translate(1645 784.2) scale(0.9235 1)">50</text>
<text class="t" transform="translate(1645 823.2) scale(0.9235 1)">15</text>
<text class="t" transform="translate(1645 833.2) scale(0.9235 1)">0</text>
<path d="M8 37h7l-3.5 4z" fill="#000"/>
<text class="t" transform="translate(20 42.2) scale(0.9536 1)">EURUSD-,H4</text>
<text class="t" transform="translate(83.2 42.2) scale(0.9355 1)" id="ttl">0.97015 0.97063 0.96950 0.96950</text>
<text class="t" transform="translate(9 621.2) scale(0.9486 1)" id="tmacd">MACD(12,26,9) -0.003958 -0.002824</text>
<text class="t" transform="translate(9 736.2) scale(0.9385 1)" id="trsi">RSI(14) 31.1005</text>
<path d="M1439 31h10l-5 5.4z" fill="#000"/>
<g shape-rendering="crispEdges" fill="#00ff00">
<rect x="5" y="655" width="2" height="2"/>
<rect x="20" y="657" width="3" height="1"/>
<rect x="36" y="657" width="3" height="2"/>
<rect x="52" y="657" width="3" height="2"/>
<rect x="68" y="657" width="3" height="5"/>
<rect x="84" y="657" width="3" height="6"/>
<rect x="100" y="657" width="3" height="10"/>
<rect x="116" y="657" width="3" height="14"/>
<rect x="132" y="657" width="3" height="18"/>
<rect x="148" y="657" width="3" height="22"/>
<rect x="164" y="657" width="3" height="27"/>
<rect x="180" y="657" width="3" height="31"/>
<rect x="196" y="657" width="3" height="32"/>
<rect x="212" y="657" width="3" height="31"/>
<rect x="228" y="657" width="3" height="32"/>
<rect x="244" y="657" width="3" height="32"/>
<rect x="260" y="657" width="3" height="32"/>
<rect x="276" y="657" width="3" height="32"/>
<rect x="292" y="657" width="3" height="35"/>
<rect x="308" y="657" width="3" height="38"/>
<rect x="324" y="657" width="3" height="42"/>
<rect x="340" y="657" width="3" height="47"/>
<rect x="356" y="657" width="3" height="49"/>
<rect x="372" y="657" width="3" height="54"/>
<rect x="388" y="657" width="3" height="54"/>
<rect x="404" y="657" width="3" height="56"/>
<rect x="420" y="657" width="3" height="58"/>
<rect x="436" y="657" width="3" height="59"/>
<rect x="452" y="657" width="3" height="59"/>
<rect x="468" y="657" width="3" height="57"/>
<rect x="484" y="657" width="3" height="55"/>
<rect x="500" y="657" width="3" height="53"/>
<rect x="516" y="657" width="3" height="52"/>
<rect x="532" y="657" width="3" height="52"/>
<rect x="548" y="657" width="3" height="51"/>
<rect x="564" y="657" width="3" height="53"/>
<rect x="580" y="657" width="3" height="52"/>
<rect x="596" y="657" width="3" height="51"/>
<rect x="612" y="657" width="3" height="43"/>
<rect x="628" y="657" width="3" height="34"/>
<rect x="644" y="657" width="3" height="28"/>
<rect x="660" y="657" width="3" height="24"/>
<rect x="676" y="657" width="3" height="22"/>
<rect x="692" y="657" width="3" height="17"/>
<rect x="708" y="657" width="3" height="10"/>
<rect x="724" y="657" width="3" height="2"/>
<rect x="740" y="651" width="3" height="6"/>
<rect x="756" y="647" width="3" height="10"/>
<rect x="772" y="642" width="3" height="15"/>
<rect x="788" y="643" width="3" height="14"/>
<rect x="804" y="643" width="3" height="14"/>
<rect x="820" y="641" width="3" height="16"/>
<rect x="836" y="640" width="3" height="17"/>
<rect x="852" y="639" width="3" height="18"/>
<rect x="868" y="638" width="3" height="19"/>
<rect x="884" y="640" width="3" height="17"/>
<rect x="900" y="640" width="3" height="17"/>
<rect x="916" y="639" width="3" height="18"/>
<rect x="932" y="637" width="3" height="20"/>
<rect x="948" y="636" width="3" height="21"/>
<rect x="964" y="634" width="3" height="23"/>
<rect x="980" y="631" width="3" height="26"/>
<rect x="996" y="625" width="3" height="32"/>
<rect x="1012" y="619" width="3" height="38"/>
<rect x="1028" y="616" width="3" height="41"/>
<rect x="1044" y="615" width="3" height="42"/>
<rect x="1060" y="615" width="3" height="42"/>
<rect x="1076" y="619" width="3" height="38"/>
<rect x="1092" y="623" width="3" height="34"/>
<rect x="1108" y="627" width="3" height="30"/>
<rect x="1124" y="629" width="3" height="28"/>
<rect x="1140" y="630" width="3" height="27"/>
<rect x="1156" y="631" width="3" height="26"/>
<rect x="1172" y="635" width="3" height="22"/>
<rect x="1188" y="642" width="3" height="15"/>
<rect x="1204" y="648" width="3" height="9"/>
<rect x="1220" y="653" width="3" height="4"/>
<rect x="1236" y="656" width="3" height="1"/>
<rect x="1252" y="657" width="3" height="3"/>
<rect x="1268" y="657" width="3" height="6"/>
<rect x="1284" y="657" width="3" height="9"/>
<rect x="1300" y="657" width="3" height="13"/>
<rect x="1316" y="657" width="3" height="16"/>
<rect x="1332" y="657" width="3" height="19"/>
<rect x="1348" y="657" width="3" height="22"/>
<rect x="1364" y="657" width="3" height="25"/>
<rect x="1380" y="657" width="3" height="27"/>
<rect x="1396" y="657" width="3" height="28"/>
<rect x="1412" y="657" width="3" height="29"/>
</g>
<polyline points="5.5,660.5 21.5,659.5 37.5,658.75 53.5,658.75 69.5,658.75 85.5,658.75 101.5,659 117.5,661 133.5,663 149.5,665.25 165.5,668.5 181.5,671.75 197.5,674.5 213.5,677.5 229.5,680.5 245.5,683.75 261.5,684.25 277.5,686.25 293.5,687 309.5,689.25 325.5,690.25 341.5,692.5 357.5,694.5 373.5,696.75 389.5,698.75 405.5,701.5 421.5,704.25 437.5,707 453.5,709 469.5,711.25 485.5,712 501.5,712 517.5,712 533.5,712 549.5,711.5 565.5,710.5 581.5,709.5 597.5,708.5 613.5,707.5 629.5,705.5 645.5,702.75 661.5,699.5 677.5,695.5 693.5,691.75 709.5,687.5 725.5,681 741.5,675.25 757.5,671 773.5,664.5 789.5,660.5 805.5,656.75 821.5,653 837.5,648 853.5,645.25 869.5,643.5 885.5,642.5 901.5,641.5 917.5,640.25 933.5,639.5 949.5,639 965.5,638.25 981.5,637.5 997.5,636.5 1013.5,634.5 1029.5,631.5 1045.5,628.75 1061.5,626 1077.5,623.5 1093.5,622.5 1109.5,621.5 1125.5,621 1141.5,621.5 1157.5,623.25 1173.5,625 1189.5,628.5 1205.5,632.25 1221.5,635.25 1237.5,639.5 1253.5,643.5 1269.5,646.25 1285.5,650.25 1301.5,654.25 1317.5,659 1333.5,662 1349.5,666 1365.5,669.25 1381.5,672.25 1397.5,674.25 1413.5,677" fill="none" stroke="#ff0000" stroke-width="2" shape-rendering="crispEdges" stroke-linejoin="round"/>
<g shape-rendering="crispEdges" stroke="#000" stroke-width="1" stroke-dasharray="3 3">
<line x1="5" y1="747.5" x2="1641" y2="747.5"/>
<line x1="5" y1="780.5" x2="1641" y2="780.5"/>
<line x1="5" y1="819.5" x2="1641" y2="819.5"/>
</g>
<polyline points="5.5,773.7 21.5,784.7 37.5,783.7 53.5,787.7 69.5,788.7 85.5,788.7 101.5,799.3 117.5,801.3 133.5,804.3 149.5,807.3 165.5,809.7 181.5,809.7 197.5,802.3 213.5,796.7 229.5,799.7 245.5,799.7 261.5,799.7 277.5,802 293.5,808 309.5,811.3 325.5,813 341.5,817 357.5,814 373.5,816 389.5,805.7 405.5,808 421.5,810.7 437.5,810.7 453.5,808.3 469.5,802 485.5,802 501.5,802 517.5,804.3 533.5,806 549.5,806 565.5,810 581.5,805 597.5,805 613.5,780.7 629.5,774.7 645.5,778.3 661.5,781.3 677.5,785 693.5,776.7 709.5,770 725.5,767.3 741.5,764.7 757.5,769 773.5,767 789.5,778 805.5,774.3 821.5,772.7 837.5,772.7 853.5,772.3 869.5,771.3 885.5,778.3 901.5,773.3 917.5,771 933.5,770.3 949.5,769.3 965.5,765.3 981.5,764.7 997.5,756 1013.5,755.7 1029.5,756 1045.5,759.3 1061.5,765.7 1077.5,771.7 1093.5,778 1109.5,775 1125.5,771.7 1141.5,771.7 1157.5,771.7 1173.5,779.3 1189.5,788.7 1205.5,789.3 1221.5,790 1237.5,788 1253.5,788.3 1269.5,789.7 1285.5,789.7 1301.5,797 1317.5,797 1333.5,797 1349.5,800.7 1365.5,800.7 1381.5,800.7 1397.5,799.7 1413.5,801" fill="none" stroke="#1e90ff" stroke-width="2" shape-rendering="crispEdges" stroke-linejoin="round"/>
<g shape-rendering="crispEdges" fill="#000">
<rect x="5" y="836" width="1" height="4"/>
<rect x="69" y="836" width="1" height="4"/>
<rect x="133" y="836" width="1" height="4"/>
<rect x="197" y="836" width="1" height="4"/>
<rect x="261" y="836" width="1" height="4"/>
<rect x="325" y="836" width="1" height="4"/>
<rect x="389" y="836" width="1" height="4"/>
<rect x="453" y="836" width="1" height="4"/>
<rect x="517" y="836" width="1" height="4"/>
<rect x="581" y="836" width="1" height="4"/>
<rect x="645" y="836" width="1" height="4"/>
<rect x="709" y="836" width="1" height="4"/>
<rect x="773" y="836" width="1" height="4"/>
<rect x="837" y="836" width="1" height="4"/>
<rect x="901" y="836" width="1" height="4"/>
<rect x="965" y="836" width="1" height="4"/>
<rect x="1029" y="836" width="1" height="4"/>
<rect x="1093" y="836" width="1" height="4"/>
<rect x="1157" y="836" width="1" height="4"/>
<rect x="1221" y="836" width="1" height="4"/>
<rect x="1285" y="836" width="1" height="4"/>
<rect x="1349" y="836" width="1" height="4"/>
<rect x="1413" y="836" width="1" height="4"/>
</g>
<text class="t" transform="translate(3.9 849.2) scale(0.9225 1)">20 Sep 2022</text>
<text class="t" transform="translate(67.9 849.2) scale(0.9225 1)">20 Sep 20:00</text>
<text class="t" transform="translate(131.9 849.2) scale(0.9225 1)">21 Sep 12:00</text>
<text class="t" transform="translate(195.9 849.2) scale(0.9225 1)">22 Sep 04:00</text>
<text class="t" transform="translate(259.9 849.2) scale(0.9225 1)">22 Sep 20:00</text>
<text class="t" transform="translate(323.9 849.2) scale(0.9225 1)">23 Sep 12:00</text>
<text class="t" transform="translate(387.9 849.2) scale(0.9225 1)">26 Sep 04:00</text>
<text class="t" transform="translate(451.9 849.2) scale(0.9225 1)">26 Sep 20:00</text>
<text class="t" transform="translate(515.9 849.2) scale(0.9225 1)">27 Sep 12:00</text>
<text class="t" transform="translate(579.9 849.2) scale(0.9225 1)">28 Sep 04:00</text>
<text class="t" transform="translate(643.9 849.2) scale(0.9225 1)">28 Sep 20:00</text>
<text class="t" transform="translate(707.9 849.2) scale(0.9225 1)">29 Sep 12:00</text>
<text class="t" transform="translate(771.9 849.2) scale(0.9225 1)">30 Sep 04:00</text>
<text class="t" transform="translate(835.9 849.2) scale(0.9556 1)">2 Oct 23:00</text>
<text class="t" transform="translate(899.9 849.2) scale(0.9556 1)">3 Oct 12:00</text>
<text class="t" transform="translate(963.9 849.2) scale(0.9556 1)">4 Oct 04:00</text>
<text class="t" transform="translate(1027.9 849.2) scale(0.9556 1)">4 Oct 20:00</text>
<text class="t" transform="translate(1091.9 849.2) scale(0.9556 1)">5 Oct 12:00</text>
<text class="t" transform="translate(1155.9 849.2) scale(0.9556 1)">6 Oct 04:00</text>
<text class="t" transform="translate(1219.9 849.2) scale(0.9556 1)">6 Oct 20:00</text>
<text class="t" transform="translate(1283.9 849.2) scale(0.9556 1)">7 Oct 12:00</text>
<text class="t" transform="translate(1347.9 849.2) scale(0.9556 1)">10 Oct 04:00</text>
<text class="t" transform="translate(1411.9 849.2) scale(0.9556 1)">10 Oct 20:00</text>
<g>
<line x1="1306.8" y1="320.6" x2="1459" y2="407.2" stroke="#4f9a2f" stroke-width="3.4"/>
<path d="M1473.3 415.3 L1462.6 399 L1453.8 414.3 Z" fill="#4f9a2f"/>
</g>
</svg>
</body></html>
